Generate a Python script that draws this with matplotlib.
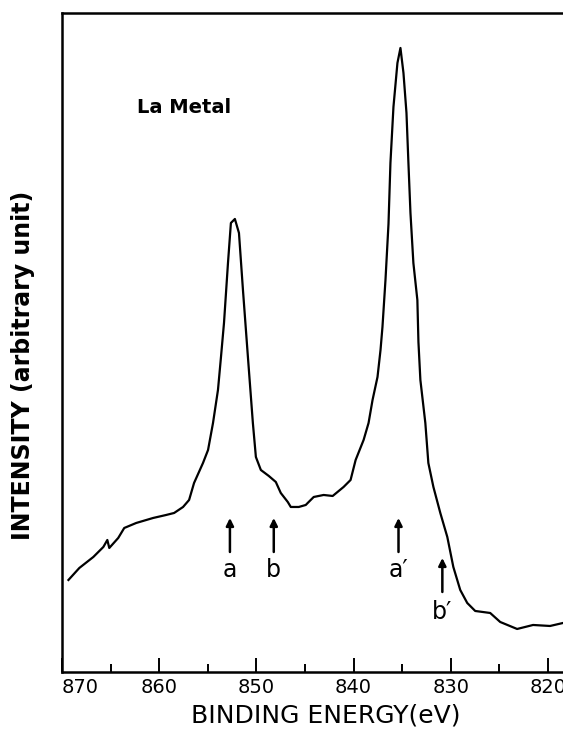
import numpy as np
import matplotlib
matplotlib.use("Agg")
import matplotlib.pyplot as plt
from matplotlib.ticker import FixedLocator

# La 3d XPS spectrum (binding energy in eV, intensity arbitrary)
energy = [869.33, 868.21, 866.77, 865.74, 865.33, 865.13, 864.21, 863.59, 862.36,
          860.62, 859.28, 858.46, 857.54, 856.92, 856.41, 855.49, 854.97, 854.46,
          853.95, 853.64, 853.33, 852.92, 852.62, 852.21, 851.79, 851.38, 850.87,
          850.36, 850.05, 849.54, 848.72, 848.00, 847.49, 846.77, 846.46, 845.64,
          844.92, 844.72, 844.10, 843.08, 842.15, 841.03, 840.31, 839.79, 838.97,
          838.46, 838.05, 837.54, 837.23, 837.03, 836.72, 836.41, 836.21, 835.90,
          835.49, 835.18, 834.87, 834.56, 834.36, 834.15, 833.85, 833.44, 833.33,
          833.13, 832.62, 832.31, 831.79, 831.08, 830.36, 829.74, 829.03, 828.31,
          827.49, 825.95, 824.92, 823.18, 821.54, 819.79, 818.46]
intensity = [92, 104, 115, 125, 132, 124, 134, 144, 149,
             154, 157, 159, 165, 172, 189, 209, 222, 249,
             282, 315, 349, 409, 449, 453, 439, 382, 315,
             249, 215, 202, 196, 190, 179, 170, 165, 165,
             167, 169, 175, 177, 176, 185, 192, 212, 232,
             249, 272, 295, 322, 345, 392, 448, 509, 565,
             609, 624, 599, 559, 509, 459, 409, 372, 330,
             292, 249, 209, 185, 159, 135, 105, 82, 69,
             61, 59, 50, 43, 47, 46, 49]

# peak markers
marker_names = ["a", "b", "a\u2032", "b\u2032"]
marker_energy = [852.72, 848.21, 835.38, 830.87]
marker_low = [120, 120, 120, 80]
marker_high = [154, 154, 154, 114]
marker_text_y = [102, 102, 102, 60]

major_ticks = [870, 860, 850, 840, 830, 820]
minor_ticks = [865, 855, 845, 835, 825]

fig = plt.figure(figsize=(5.63, 7.32), dpi=100)
ax = fig.add_axes([0.110, 0.082, 0.890, 0.8996])

ax.plot(energy, intensity, color="black", lw=1.6)

for name, e, lo, hi, ty in zip(marker_names, marker_energy, marker_low, marker_high, marker_text_y):
    ax.annotate("", xy=(e, hi), xytext=(e, lo),
                arrowprops=dict(arrowstyle="-|>", color="black", lw=1.8,
                                mutation_scale=11, shrinkA=0, shrinkB=0))
    ax.text(e, ty, name, ha="center", va="center", fontsize=17)

ax.text(862.26, 564, "La Metal", ha="left", va="center", fontsize=14, fontweight="bold")

ax.set_xlim(870, 818.46)
ax.set_ylim(0, 658.5)
ax.xaxis.set_major_locator(FixedLocator(major_ticks))
ax.xaxis.set_minor_locator(FixedLocator(minor_ticks))
ax.set_xticklabels([str(t) for t in major_ticks])
ax.tick_params(axis="x", which="major", direction="in", length=10, width=1.4,
               labelsize=14, pad=4, top=False)
ax.tick_params(axis="x", which="minor", direction="in", length=5.5, width=1.4, top=False)
ax.set_yticks([])
ax.xaxis.get_majorticklabels()[0].set_horizontalalignment("left")

for side in ["left", "bottom", "top"]:
    ax.spines[side].set_linewidth(1.8)
ax.spines["right"].set_visible(False)

ax.set_xlabel("BINDING ENERGY(eV)", fontsize=18, va="center")
ax.xaxis.set_label_coords((326 - 62) / 501, -0.066)
ax.set_ylabel("INTENSITY (arbitrary unit)", fontsize=17, fontweight="bold", va="center")
ax.yaxis.set_label_coords(-0.077, 0.466)

fig.savefig("out.png", dpi=100)
